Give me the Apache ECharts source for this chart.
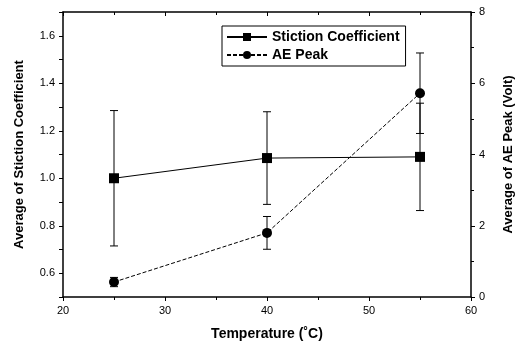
<!DOCTYPE html>
<html>
<head>
<meta charset="utf-8">
<script src="https://cdn.jsdelivr.net/npm/echarts@6/dist/echarts.min.js"></script>
<style>
  html, body { margin: 0; padding: 0; background: #fff; }
  #chart { width: 517px; height: 345px; }
</style>
</head>
<body>
<div id="chart"></div>
<script>
// temperatures (°C)
var temps = [25, 40, 55];
// average stiction coefficient and its +/- error
var stiction = [1.0, 1.085, 1.09];
var stictionErr = [0.285, 0.195, 0.226];
// average AE peak (Volt) and its +/- error
var aePeak = [0.42, 1.8, 5.72];
var aeErr = [0.13, 0.46, 1.13];

var FONT = "Liberation Sans";

function pairs(xs, ys) {
    return xs.map(function (x, i) { return [x, ys[i]]; });
}
function errRows(xs, ys, es) {
    return xs.map(function (x, i) { return [x, ys[i] - es[i], ys[i] + es[i]]; });
}

// draws the vertical bar with caps for each point
function errorBar(params, api) {
    var lo = api.coord([api.value(0), api.value(1)]);
    var hi = api.coord([api.value(0), api.value(2)]);
    var w = 4;
    var st = {stroke: "#000", lineWidth: 1};
    return {
        type: "group",
        children: [
            {type: "line", shape: {x1: lo[0], y1: lo[1], x2: hi[0], y2: hi[1]}, style: st},
            {type: "line", shape: {x1: lo[0] - w, y1: lo[1], x2: lo[0] + w, y2: lo[1]}, style: st},
            {type: "line", shape: {x1: hi[0] - w, y1: hi[1], x2: hi[0] + w, y2: hi[1]}, style: st}
        ]
    };
}

var chart = echarts.init(document.getElementById("chart"));
var axisLine = {show: true, lineStyle: {color: "#000", width: 1.5}};
var label = {color: "#000", fontFamily: FONT, fontSize: 11};
var nameStyle = {color: "#000", fontFamily: FONT, fontSize: 13, fontWeight: "bold"};

chart.setOption({
    animation: false,
    textStyle: {fontFamily: FONT},
    grid: {left: 63, right: 46, top: 12, bottom: 48, containLabel: false, outerBoundsMode: "none"},
    legend: {
        data: ["Stiction Coefficient", "AE Peak"],
        orient: "vertical",
        left: 222, top: 26,
        padding: [4, 6, 4, 4],
        itemGap: 4,
        itemWidth: 40, itemHeight: 10,
        borderColor: "#000", borderWidth: 1,
        textStyle: {color: "#000", fontFamily: FONT, fontSize: 14, fontWeight: "bold"}
    },
    xAxis: [{
        type: "value", min: 20, max: 60, interval: 10,
        name: "Temperature (˚C)", nameLocation: "middle", nameGap: 30,
        nameTextStyle: Object.assign({}, nameStyle, {fontSize: 14}),
        axisLine: axisLine,
        axisTick: {show: true, length: 4, lineStyle: {color: "#000"}},
        minorTick: {show: true, splitNumber: 2, length: 3, lineStyle: {color: "#000"}},
        axisLabel: label,
        splitLine: {show: false}
    }, {
        type: "value", min: 20, max: 60, interval: 10, position: "top",
        axisLine: axisLine,
        axisTick: {show: true, inside: true, length: 4, lineStyle: {color: "#000"}},
        minorTick: {show: true, splitNumber: 2, length: 3, lineStyle: {color: "#000"}},
        axisLabel: {show: false},
        splitLine: {show: false}
    }],
    yAxis: [{
        type: "value", min: 0.5, max: 1.7, interval: 0.1,
        name: "Average of Stiction Coefficient", nameLocation: "middle", nameGap: 37,
        nameTextStyle: nameStyle,
        axisLine: axisLine,
        axisTick: {show: true, length: 4, lineStyle: {color: "#000"}},
        axisLabel: Object.assign({}, label, {
            formatter: function (v) {
                var t = Math.round(v * 10);
                return t % 2 === 0 ? (t / 10).toFixed(1) : "";
            }
        }),
        splitLine: {show: false}
    }, {
        type: "value", min: 0, max: 8, interval: 2,
        name: "Average of AE Peak (Volt)", nameLocation: "middle", nameGap: 31,
        nameTextStyle: nameStyle,
        axisLine: axisLine,
        axisTick: {show: true, length: 4, lineStyle: {color: "#000"}},
        minorTick: {show: true, splitNumber: 2, length: 3, lineStyle: {color: "#000"}},
        axisLabel: label,
        splitLine: {show: false}
    }],
    series: [{
        name: "Stiction Coefficient",
        type: "line",
        data: pairs(temps, stiction),
        symbol: "rect", symbolSize: 10,
        itemStyle: {color: "#000"},
        lineStyle: {color: "#000", width: 1}
    }, {
        name: "AE Peak",
        type: "line",
        yAxisIndex: 1,
        data: pairs(temps, aePeak),
        symbol: "circle", symbolSize: 10,
        itemStyle: {color: "#000"},
        lineStyle: {color: "#000", width: 1, type: [4, 2]}
    }, {
        type: "custom",
        renderItem: errorBar,
        data: errRows(temps, stiction, stictionErr),
        z: 1
    }, {
        type: "custom",
        yAxisIndex: 1,
        renderItem: errorBar,
        data: errRows(temps, aePeak, aeErr),
        z: 1
    }]
});
</script>
</body>
</html>
